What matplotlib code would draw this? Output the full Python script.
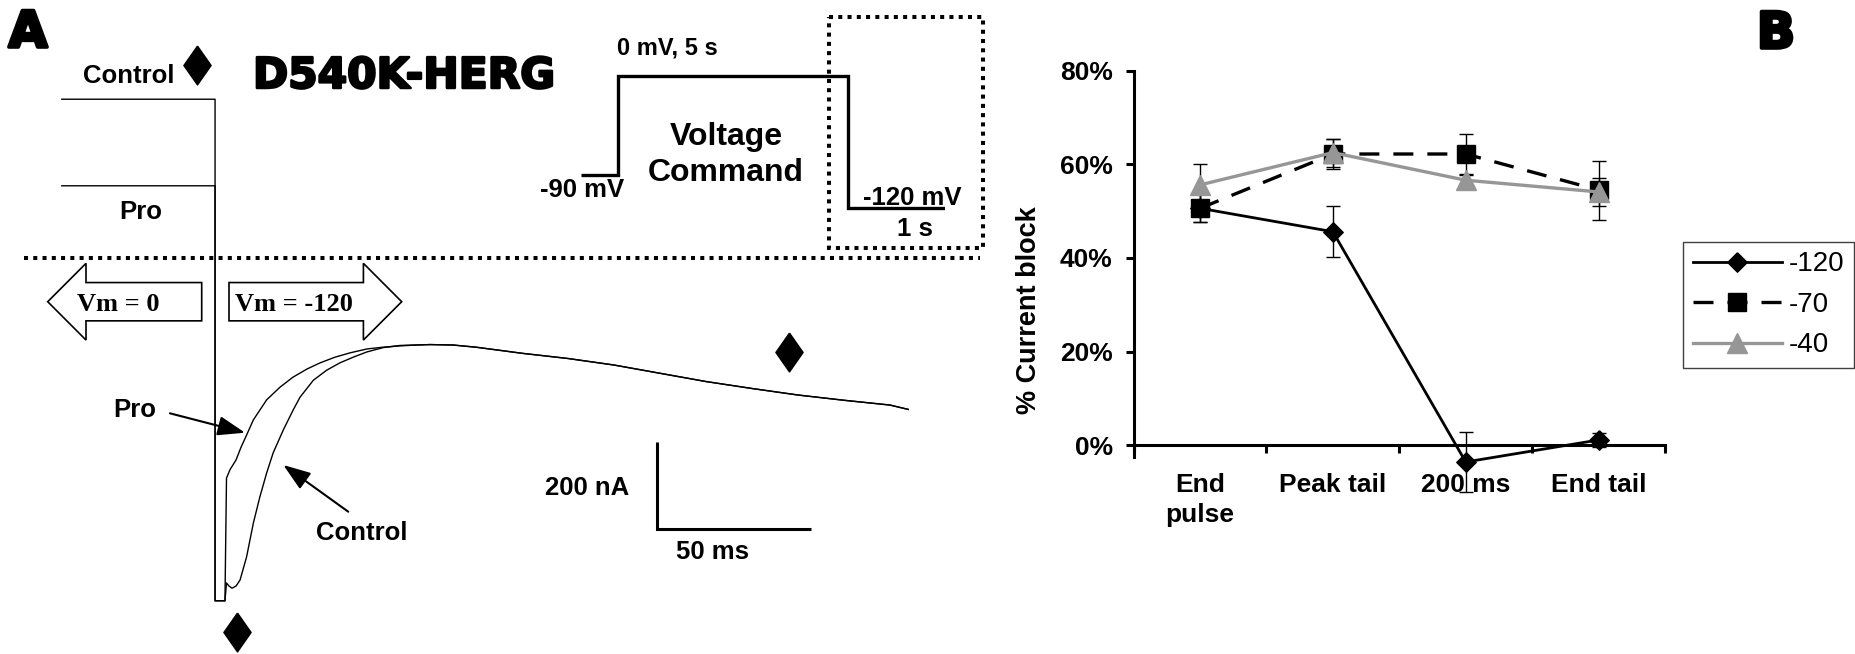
import numpy as np
import matplotlib
matplotlib.use("Agg")
import matplotlib.pyplot as plt
from matplotlib.patches import FancyArrow, Rectangle
import matplotlib.patheffects as pe
import matplotlib.ticker as mticker

plt.rcParams['font.family'] = ['Liberation Sans', 'DejaVu Sans']

# ---------------- Panel A data: current traces (time in ms, current in nA, arbitrary zero) ----
ctl_t = [-49.9, -0.3, -0.3, 2.9, 3.4, 4.2, 5.2, 6.5, 7.8, 9.9, 12.1, 14.2, 16.4, 18.5, 21.8,
         25.0, 27.2, 31.5, 35.8, 40.1, 44.4, 48.8, 54.1, 59.6, 69.3, 76.7, 84.1, 91.6, 99.0,
         113.9, 128.8, 143.7, 158.6, 173.5, 188.4, 203.2, 218.1, 224.0]
ctl_I = [365, 365, -788, -788, -747, -754, -759, -754, -740, -687, -609, -549, -494, -448, -395,
         -349, -320, -281, -258, -241, -228, -216, -206, -201, -199, -200, -205, -212, -219,
         -231, -246, -265, -284, -300, -315, -327, -338, -348]
pro_t = [-49.9, -0.3, -0.3, 2.9, 3.4, 4.5, 6.5, 8.1, 9.9, 12.1, 16.4, 20.7, 24.9, 29.5, 33.7,
         38.5, 43.4, 48.9, 54.1, 59.6, 65.1, 69.3, 76.7, 84.1, 91.6, 99.0, 113.9, 128.8, 143.7,
         158.6, 173.5, 188.4, 203.2, 218.1, 224.0]
pro_I = [166, 166, -788, -788, -506, -487, -464, -435, -407, -372, -326, -297, -274, -255, -241,
         -228, -218, -209, -205, -202, -200, -199, -200, -205, -212, -219, -231, -246, -265,
         -284, -300, -315, -327, -338, -348]
# measurement-time markers (diamonds)
mark_t = [-6.1, 6.7, 185.4]
mark_I = [444, -860, -216]
# scale bar sizes
bar_ms = 50
bar_nA = 200
# voltage protocol (schematic time units, mV)
cmd_t = [0, 0.8, 0.8, 5.8, 5.8, 7.9]
cmd_v = [-90, -90, 0, 0, -120, -120]

# ---------------- Panel B data ----------------
categories = ['End\npulse', 'Peak tail', '200 ms', 'End tail']
series_labels = ['-120', '-70', '-40']
block_m120 = [50.6, 45.6, -3.6, 1.1]
sem_m120 = [3.0, 5.5, 6.5, 1.5]
block_m70 = [50.6, 62.2, 62.2, 54.5]
sem_m70 = [3.0, 3.3, 4.3, 6.3]
block_m40 = [55.6, 62.5, 56.6, 54.1]
sem_m40 = [4.4, 3.0, 1.2, 3.0]

W, H = 1856, 654
fig = plt.figure(figsize=(W / 100, H / 100), dpi=100)


def rect(x0, y0, x1, y1):
    return [x0 / W, 1 - y1 / H, (x1 - x0) / W, (y1 - y0) / H]


heavy = [pe.withStroke(linewidth=1.8, foreground='black')]
heavier = [pe.withStroke(linewidth=2.6, foreground='black')]
thin_diamond = [(0, 1), (0.7, 0), (0, -1), (-0.7, 0), (0, 1)]
diamond = [(0, 1), (1, 0), (0, -1), (-1, 0), (0, 1)]

# ---------------- Panel A traces ----------------
axA = fig.add_axes(rect(0, 0, 1000, 654))
axA.set_xlim(-69.90, 253.72)
axA.set_ylim(-910.3, 593.1)
axA.axis('off')
axA.plot(ctl_t, ctl_I, color='black', lw=1.0)
axA.plot(pro_t, pro_I, color='black', lw=1.0)
axA.plot(mark_t, mark_I, ls='none', marker=thin_diamond, ms=28, color='black')

# scale bar
sb_t0, sb_I0 = 142.7, -623.7
axA.plot([sb_t0, sb_t0, sb_t0 + bar_ms], [sb_I0 + bar_nA, sb_I0, sb_I0],
         color='black', lw=2.2, solid_joinstyle='miter', solid_capstyle='butt')

arrowp = dict(arrowstyle='-|>,head_length=1.4,head_width=0.5', mutation_scale=12,
              lw=1.5, color='black', shrinkA=0, shrinkB=0)
axA.annotate('', xy=(9.4, -401.6), xytext=(-14.9, -357), arrowprops=arrowp)
axA.annotate('', xy=(21.8, -475.9), xytext=(42.8, -583.2), arrowprops=arrowp)

# ---------------- Voltage command inset ----------------
axV = fig.add_axes(rect(581, 70.5, 945, 213.5))
axV.set_xlim(0, 7.9)
axV.set_ylim(-125, 5)
axV.axis('off')
axV.plot(cmd_t, cmd_v, color='black', lw=2.4, solid_joinstyle='miter', solid_capstyle='butt')

# ---------------- Overlay for labels & decorations (pixel coords) ----------------
ov = fig.add_axes([0, 0, 1, 1])
ov.set_xlim(0, W)
ov.set_ylim(H, 0)
ov.axis('off')
ov.patch.set_alpha(0)

dot = (0, (1, 1.3))
ov.plot([24, 980], [258, 258], color='black', lw=2.9, ls=dot, dash_capstyle='butt')
ov.add_patch(Rectangle((829.3, 16.7), 154, 231.6, fill=False, lw=2.9, ls=dot,
                       edgecolor='black'))

ov.add_patch(FancyArrow(201.7, 301.7, -154, 0, width=38.3, head_width=76.7, head_length=38.3,
                        length_includes_head=True, fc='white', ec='black', lw=1.2))
ov.add_patch(FancyArrow(229, 301.7, 172.7, 0, width=38.3, head_width=76.7, head_length=38.3,
                        length_includes_head=True, fc='white', ec='black', lw=1.2))


def t(x, y, s, size=18.5, ha='center', family=None, weight='bold', effects=None):
    kw = {}
    if family:
        kw['family'] = family
    txt = ov.text(x, y, s, fontsize=size, ha=ha, va='baseline', fontweight=weight, **kw)
    if effects:
        txt.set_path_effects(effects)
    return txt


t(28, 47, 'A', size=36, family='DejaVu Sans', effects=heavier)
t(1776, 48, 'B', size=36, family='DejaVu Sans', effects=heavier)
t(253, 88, 'D540K-HERG', size=30.5, ha='left', family='DejaVu Sans', effects=heavy)
t(128.5, 83, 'Control')
t(141, 219, 'Pro')
t(667, 55, '0 mV, 5 s', size=17)
t(581.7, 197, '-90 mV')
t(726, 145, 'Voltage', size=23)
t(726, 181, 'Command', size=23)
t(912, 205, '-120 mV')
t(915, 236.5, '1 s')
t(118.7, 311, 'Vm = 0', size=19, family='Liberation Serif')
t(294, 311, 'Vm = -120', size=19, family='Liberation Serif')
t(135, 416.7, 'Pro')
t(361.7, 540, 'Control')
t(587.6, 495, '200 nA')
t(713, 559.3, '50 ms')

# ---------------- Panel B ----------------
axB = fig.add_axes(rect(1133.6, 70.7, 1665, 457.3))
xpos = np.arange(len(categories)) + 0.5
series = [(block_m120, sem_m120, dict(color='black', lw=2.0, marker=diamond, ms=14)),
          (block_m70, sem_m70, dict(color='black', lw=2.4, ls=(0, (6, 4.2)), marker='s', ms=13)),
          (block_m40, sem_m40, dict(color='#969696', lw=2.4, marker='^', ms=14))]
handles = []
for k, (vals, errs, style) in enumerate(series):
    eb = axB.errorbar(xpos, vals, yerr=errs, fmt='none', ecolor='black', elinewidth=1.0,
                      capsize=5, capthick=1.0, zorder=2 + 2 * k)
    for art in list(eb.lines[1]) + list(eb.lines[2]):
        art.set_clip_on(False)
    ln, = axB.plot(xpos, vals, clip_on=False, zorder=3 + 2 * k, **style)
    handles.append(ln)

axB.set_xlim(0, 4)
axB.set_ylim(-2.6, 80)
for s in ['top', 'right']:
    axB.spines[s].set_visible(False)
axB.spines['left'].set_linewidth(2.2)
axB.spines['bottom'].set_linewidth(2.2)
axB.spines['bottom'].set_position(('data', 0))
axB.set_yticks([0, 20, 40, 60, 80])
axB.yaxis.set_major_formatter(mticker.FuncFormatter(lambda v, p: f'{v:.0f}%'))
axB.tick_params(axis='y', direction='out', length=6, width=2.2, pad=9, labelsize=19)
axB.set_xticks(xpos)
axB.set_xticklabels(categories)
axB.set_xticks(np.arange(len(categories) + 1), minor=True)
axB.tick_params(axis='x', which='major', length=0, pad=20, labelsize=19)
axB.tick_params(axis='x', which='minor', direction='out', length=6, width=2.2)
for lab in axB.get_xticklabels() + axB.get_yticklabels():
    lab.set_fontweight('bold')
    lab.set_linespacing(1.3)
axB.set_ylabel('% Current block', fontsize=19.5, fontweight='bold')
axB.yaxis.set_label_coords(-0.172, 0.381)

leg = axB.legend(handles=handles, labels=series_labels, loc='upper left',
                 bbox_to_anchor=(1683 / W, 1 - 241.7 / H), bbox_transform=fig.transFigure,
                 frameon=True, fancybox=False, edgecolor='#404040', framealpha=1,
                 fontsize=20, handlelength=3.2, handletextpad=0.25, borderpad=0.35,
                 labelspacing=0.52, borderaxespad=0)
leg.get_frame().set_linewidth(1.0)

fig.savefig('out.png', dpi=100)
